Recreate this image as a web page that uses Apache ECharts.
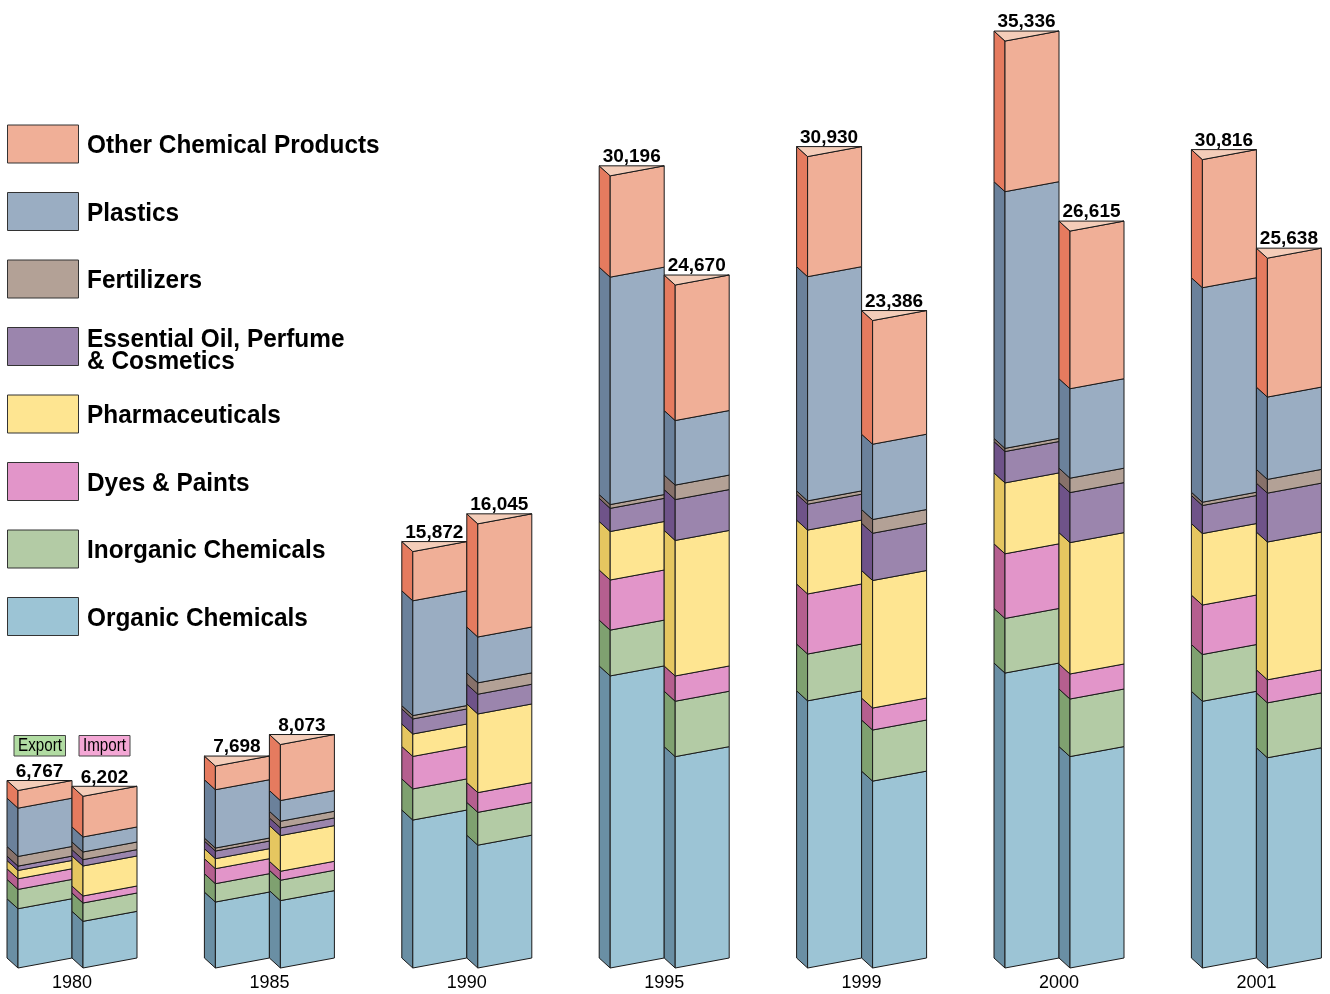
<!DOCTYPE html>
<html>
<head>
<meta charset="utf-8">
<script src="https://cdn.jsdelivr.net/npm/echarts@6/dist/echarts.min.js"></script>
<style>html,body{margin:0;padding:0;background:#fff}#main{width:1330px;height:994px}</style>
</head>
<body>
<div id="main"></div>
<script>
// ---------- data (US$ millions) ----------
const years = ['1980', '1985', '1990', '1995', '1999', '2000', '2001'];
const categoryNames = ['Organic Chemicals', 'Inorganic Chemicals', 'Dyes & Paints', 'Pharmaceuticals',
  'Essential Oil, Perfume & Cosmetics', 'Fertilizers', 'Plastics', 'Other Chemical Products'];

const exportOrganic     = [2260, 2515, 5640, 11134, 10184, 11244, 10167];
const exportInorganic   = [736, 699, 1187, 1746, 1785, 2081, 1782];
const exportDyes        = [406, 572, 1238, 1910, 2289, 2464, 1887];
const exportPharma      = [317, 381, 855, 1849, 2436, 2703, 2725];
const exportEssential   = [165, 292, 574, 883, 987, 1196, 1069];
const exportFertilizers = [368, 114, 128, 144, 126, 120, 126];
const exportPlastics    = [1841, 2223, 4376, 8669, 8546, 9785, 8176];
const exportOther       = [673, 902, 1876, 3862, 4578, 5742, 4884];
const exportTotal       = [6767, 7698, 15872, 30196, 30930, 35336, 30816];

const importOrganic     = [1686, 2434, 4437, 7634, 6750, 7637, 7594];
const importInorganic   = [662, 735, 1185, 2001, 1846, 2079, 1983];
const importDyes        = [253, 325, 713, 913, 794, 904, 833];
const importPharma      = [1084, 1289, 2841, 4895, 4606, 4745, 4977];
const importEssential   = [229, 277, 713, 1476, 1707, 1807, 1765];
const importFertilizers = [277, 241, 411, 524, 496, 520, 496];
const importPlastics    = [542, 747, 1656, 2331, 2720, 3231, 2974];
const importOther       = [1469, 2024, 4087, 4895, 4467, 5694, 5017];
const importTotal       = [6202, 8073, 16045, 24670, 23386, 26615, 25638];

// ---------- styles ----------
const frontColors = ['#9CC4D5', '#B3CBA5', '#E295C9', '#FEE591', '#9B85AD', '#B3A196', '#9AADC2', '#F0AF97'];
const sideColors  = ['#6A8FA4', '#7FA170', '#B55F8F', '#E5C660', '#6F5389', '#87716A', '#6B819B', '#E57B5F'];
const topColor = '#F4CDB9';
const legendOrder = [7, 6, 5, 4, 3, 2, 1, 0];
const SK = 10, SIDE = 11, FRONT = 54;
const STROKE = '#1a1a1a';

const exportSegs = [exportOrganic, exportInorganic, exportDyes, exportPharma, exportEssential, exportFertilizers, exportPlastics, exportOther];
const importSegs = [importOrganic, importInorganic, importDyes, importPharma, importEssential, importFertilizers, importPlastics, importOther];

function buildData(segs, totals) {
  return years.map((y, i) => [i].concat(segs.map(s => s[i])).concat([totals[i]]));
}

function makeRender(isImport) {
  return function (params, api) {
    const i = api.value(0);
    const cx = api.coord([i, 0])[0];
    const xs = isImport ? cx : cx - SIDE - FRONT;
    const xf = xs + SIDE, xr = xf + FRONT;
    const children = [];
    let cum = 0;
    for (let k = 0; k < 8; k++) {
      const v = api.value(k + 1);
      const y0 = api.coord([i, cum])[1];
      cum += v;
      const y1 = api.coord([i, cum])[1];
      children.push({
        type: 'polygon',
        shape: { points: [[xs, y1 - SK], [xf, y1], [xf, y0], [xs, y0 - SK]] },
        style: { fill: sideColors[k], stroke: STROKE, lineWidth: 1 }
      });
      children.push({
        type: 'polygon',
        shape: { points: [[xf, y1], [xr, y1 - SK], [xr, y0 - SK], [xf, y0]] },
        style: { fill: frontColors[k], stroke: STROKE, lineWidth: 1 }
      });
    }
    const yT = api.coord([i, cum])[1];
    children.push({
      type: 'polygon',
      shape: { points: [[xs, yT - SK], [xr, yT - SK], [xf, yT]] },
      style: { fill: topColor, stroke: STROKE, lineWidth: 1 }
    });
    const total = api.value(9);
    children.push({
      type: 'text',
      x: (xs + xr) / 2,
      y: yT - SK + 0.5,
      style: {
        text: Number(total).toLocaleString('en-US'),
        fontFamily: 'Liberation Sans, Arial, sans-serif',
        fontWeight: 'bold',
        fontSize: 19,
        fill: '#000',
        textAlign: 'center',
        textVerticalAlign: 'bottom'
      }
    });
    return { type: 'group', children: children };
  };
}

// ---------- legend graphics ----------
const legendTops = [125, 192.5, 260, 327.5, 395, 462.5, 530, 597.5];
const graphics = [];
legendOrder.forEach((k, j) => {
  const top = legendTops[j];
  graphics.push({
    type: 'rect', x: 7.5, y: top, shape: { x: 0, y: 0, width: 71, height: 38 },
    style: { fill: frontColors[k], stroke: '#333', lineWidth: 1 }
  });
  const txtStyle = {
    fontFamily: 'Liberation Sans, Arial, sans-serif', fontWeight: 'bold', fontSize: 26.5,
    fill: '#000', textAlign: 'left', textVerticalAlign: 'middle'
  };
  if (k === 4) {
    graphics.push({ type: 'text', x: 87, y: 340, scaleX: 0.92, style: Object.assign({ text: 'Essential Oil, Perfume' }, txtStyle) });
    graphics.push({ type: 'text', x: 87, y: 362, scaleX: 0.92, style: Object.assign({ text: '& Cosmetics' }, txtStyle) });
  } else {
    graphics.push({ type: 'text', x: 87, y: top + 21, scaleX: 0.92, style: Object.assign({ text: categoryNames[k] }, txtStyle) });
  }
});
// Export / Import tags
graphics.push({ type: 'rect', x: 14, y: 735.5, shape: { x: 0, y: 0, width: 51.5, height: 20.5 }, style: { fill: '#B1DCA2', stroke: '#444', lineWidth: 1 } });
graphics.push({ type: 'text', x: 40, y: 746, scaleX: 0.82, style: { text: 'Export', fontFamily: 'Liberation Sans, Arial, sans-serif', fontSize: 18.5, fill: '#000', textAlign: 'center', textVerticalAlign: 'middle' } });
graphics.push({ type: 'rect', x: 79, y: 735.5, shape: { x: 0, y: 0, width: 51, height: 20.5 }, style: { fill: '#F4A7D5', stroke: '#444', lineWidth: 1 } });
graphics.push({ type: 'text', x: 104.5, y: 746, scaleX: 0.82, style: { text: 'Import', fontFamily: 'Liberation Sans, Arial, sans-serif', fontSize: 18.5, fill: '#000', textAlign: 'center', textVerticalAlign: 'middle' } });

const chart = echarts.init(document.getElementById('main'), null, { renderer: 'canvas' });
chart.setOption({
  animation: false,
  backgroundColor: '#fff',
  grid: { left: 72, right: 73.6, top: 8, bottom: 26, containLabel: false },
  xAxis: {
    type: 'category', data: years, boundaryGap: false,
    axisLine: { show: false }, axisTick: { show: false }, splitLine: { show: false },
    axisLabel: { fontFamily: 'Liberation Sans, Arial, sans-serif', fontSize: 18, color: '#000', margin: 6, interval: 0 }
  },
  yAxis: [
    { type: 'value', min: 0, max: 36595, show: false, splitLine: { show: false } },
    { type: 'value', min: 0, max: 34675, show: false, splitLine: { show: false } }
  ],
  series: [
    { name: 'Export', type: 'custom', xAxisIndex: 0, yAxisIndex: 0, renderItem: makeRender(false), data: buildData(exportSegs, exportTotal), clip: false },
    { name: 'Import', type: 'custom', xAxisIndex: 0, yAxisIndex: 1, renderItem: makeRender(true), data: buildData(importSegs, importTotal), clip: false }
  ],
  graphic: graphics
});
</script>
</body>
</html>
